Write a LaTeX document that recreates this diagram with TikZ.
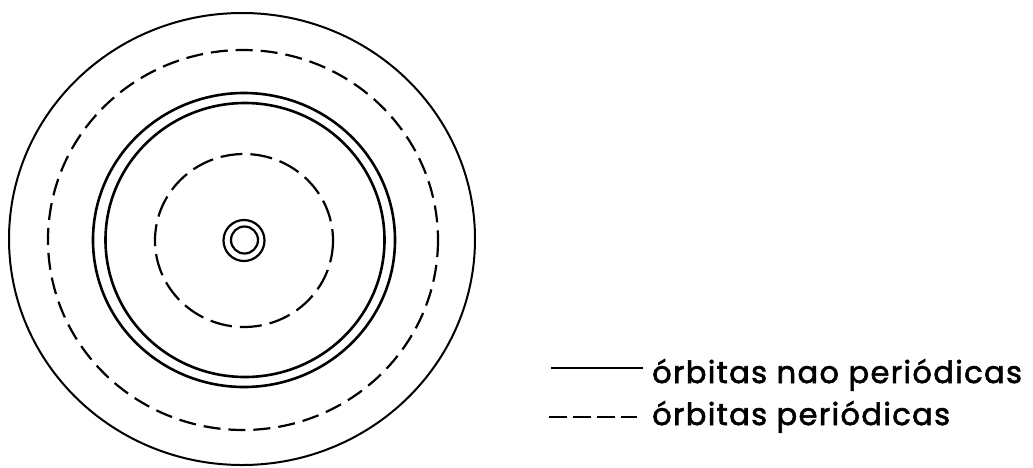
\documentclass[tikz,border=0pt]{standalone}
\usepackage{fontspec}
\setmainfont{Poppins}
\newfontfamily\legfont{Poppins}[FakeBold=2, LetterSpace=4.5]
\begin{document}
\begin{tikzpicture}[x=1pt,y=-1pt,
  orbit/.style={line width=2.2pt},
  porbit/.style={line width=2.2pt, dash pattern=on 17pt off 8pt},
  legtext/.style={anchor=base west, inner sep=0pt, font=\legfont\fontsize{30.5}{36}\selectfont}]
\useasboundingbox (0,0) rectangle (1033,467);
% orbits
\draw[orbit, line width=2pt] (242,239) ellipse [x radius=233, y radius=226];
\draw[porbit] (243,240) ellipse [x radius=195, y radius=190];
\draw[orbit, line width=2.6pt] (244,240) ellipse [x radius=151, y radius=147];
\draw[orbit, line width=2.6pt] (245,240) ellipse [x radius=139.5, y radius=137];
\draw[porbit, dash pattern=on 22pt off 8pt] (244,240.5) ellipse [x radius=89, y radius=86.5];
\draw[orbit] (244,240.5) circle [radius=20.5];
\draw[orbit] (244.5,240) circle [radius=13.5];
% legend
\coordinate (s1) at (551,368);
\coordinate (s2) at (643,368);
\coordinate (d1) at (549,417);
\coordinate (d2) at (637,417);
\node[legtext] (t1) at (652,383) {órbitas nao periódicas};
\node[legtext] (t2) at (652,425) {órbitas periódicas};
\draw[orbit, line width=2.6pt] (s1) -- (s2);
\draw[porbit, line width=2.6pt, dash pattern=on 18pt off 6pt] (d1) -- (d2);
\end{tikzpicture}
\end{document}
